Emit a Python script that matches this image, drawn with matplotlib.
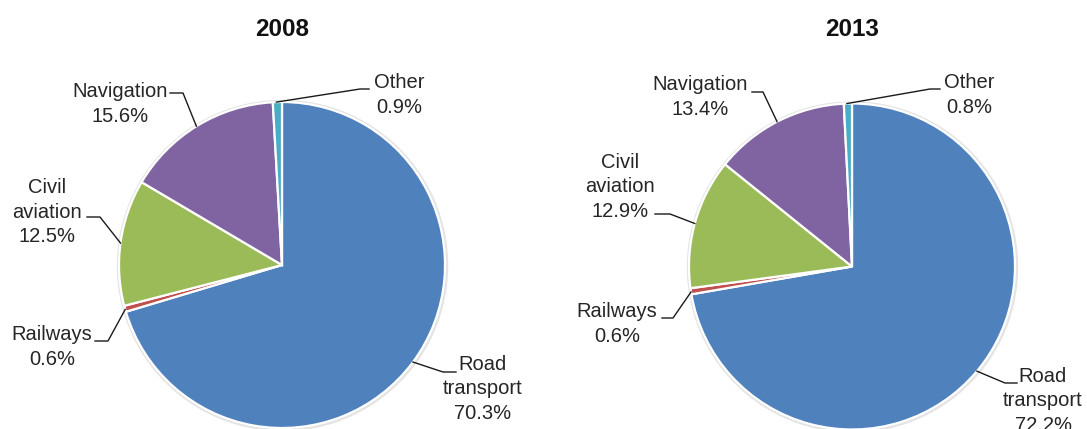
import numpy as np
import matplotlib
matplotlib.use("Agg")
import matplotlib.pyplot as plt
from matplotlib.patches import Circle

plt.rcParams['font.family'] = ['Liberation Sans', 'DejaVu Sans']

# data
categories = ["Road\ntransport", "Railways", "Civil\naviation", "Navigation", "Other"]
years = ["2008", "2013"]
values_2008 = [70.3, 0.6, 12.5, 15.6, 0.9]
values_2013 = [72.2, 0.6, 12.9, 13.4, 0.8]
colors = ["#4F81BD", "#C0504D", "#9BBB59", "#8064A2", "#4BACC6"]

W, H = 1087, 429
fig = plt.figure(figsize=(W / 100, H / 100), dpi=100)
ax = fig.add_axes([0, 0, 1, 1])

# layout (pixel coords, y from top)
centers = [(282, 265), (852, 266.5)]
radius = 163
# label centre, elbow, end of leader line for each category
layouts = [
    [((483, 389), (443, 372), (456, 372)),
     ((52, 347), (108, 341), (95, 341)),
     ((47, 212), (100, 217), (87, 217)),
     ((120, 104), (183, 93), (170, 93)),
     ((399, 95), (360, 89), (369, 89))],
    [((1043, 401), (1005, 383), (1017, 383)),
     ((617, 324), (673, 318), (662, 318)),
     ((620, 187), (670, 214), (655, 214)),
     ((700, 97), (763, 92), (752, 92)),
     ((969, 95), (930, 89), (940, 89))],
]

def Y(py):
    return H - py

txt_color = "#262626"
for year, vals, (cx, cy), lay in zip(years, [values_2008, values_2013], centers, layouts):
    # soft shadow
    ax.add_patch(Circle((cx + 0.5, Y(cy) - 0.5), radius + 2, color="#e4e4e4", zorder=0))
    ax.pie(vals, colors=colors, startangle=90, counterclock=False,
           center=(cx, Y(cy)), radius=radius,
           wedgeprops=dict(edgecolor="white", linewidth=1.6))
    ax.text(cx, Y(30), year, ha="center", va="center", fontsize=17.5,
            fontweight="bold", color="#111111")
    cum = np.cumsum([0] + vals[:-1])
    for cat, v, c0, (tpos, elbow, end) in zip(categories, vals, cum, lay):
        ang = np.deg2rad(90 - 360 * (c0 + v / 2) / 100)
        ax_x = cx + radius * np.cos(ang)
        ax_y = Y(cy) + radius * np.sin(ang)
        ax.plot([ax_x, elbow[0], end[0]], [ax_y, Y(elbow[1]), Y(end[1])],
                color="#1a1a1a", lw=1.0, zorder=5)
        ax.text(tpos[0], Y(tpos[1]), f"{cat}\n{v:.1f}%", ha="center", va="center",
                fontsize=14.5, color=txt_color, linespacing=1.38)

ax.set_xlim(0, W)
ax.set_ylim(0, H)
ax.set_aspect("equal")
ax.axis("off")

fig.savefig("out.png", dpi=100)
